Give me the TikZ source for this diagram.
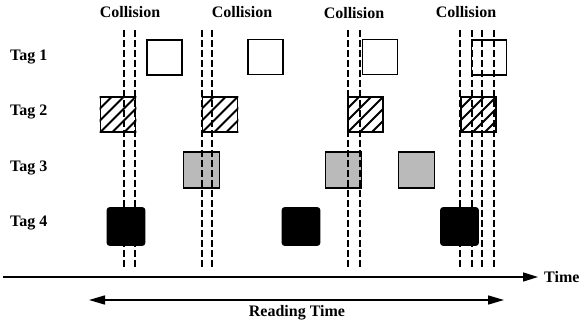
\documentclass[tikz,border=0pt]{standalone}
\usepackage{fontspec}
\setmainfont{Liberation Serif}
\usetikzlibrary{arrows.meta}
\begin{document}
\begin{tikzpicture}[x=1pt,y=-1pt,
  lbl/.style={font=\bfseries\fontsize{16}{18}\selectfont, inner sep=0pt},
  slot/.style={draw=black, line width=1.9pt, minimum width=35pt, minimum height=35pt, inner sep=0pt},
  emptyslot/.style={slot, fill=white},
  hatchslot/.style={slot, fill=white},
  dotslot/.style={slot, fill=black!27, minimum width=36pt, minimum height=36pt},
  darkslot/.style={slot, fill=black, rounded corners=2.5pt, minimum width=37pt, minimum height=37pt},
  collide/.style={line width=1.8pt, dash pattern=on 6.5pt off 3.5pt},
  axis/.style={line width=1.5pt, -{Triangle[length=15pt,width=9pt]}},
  span/.style={line width=1.5pt, {Triangle[length=16pt,width=9pt]}-{Triangle[length=16pt,width=9pt]}}]
\useasboundingbox (0,0) rectangle (579,322);

% row labels
\node[lbl, anchor=west] (t1) at (10,57) {Tag 1};
\node[lbl, anchor=west] (t2) at (10,112) {Tag 2};
\node[lbl, anchor=west] (t3) at (10,168) {Tag 3};
\node[lbl, anchor=west] (t4) at (10,223) {Tag 4};

% collision headings
\node[lbl] (c1) at (130,12) {Collision};
\node[lbl] (c2) at (242,12) {Collision};
\node[lbl] (c3) at (354,13) {Collision};
\node[lbl] (c4) at (466,12) {Collision};

% Tag 1 slots
\node[emptyslot] (a1) at (164.5,57.5) {};
\node[emptyslot] (a2) at (265.5,57) {};
\node[emptyslot] (a3) at (380,57) {};
\node[emptyslot] (a4) at (489,57.5) {};

% Tag 2 slots (hatched)
\foreach \n/\x in {b1/118, b2/220, b3/365.5, b4/478.5}{
  \node[hatchslot] (\n) at (\x,114.5) {};
  \begin{scope}
    \clip (\n.south west) rectangle (\n.north east);
    \foreach \k in {-36,-24,...,36}
      \draw[line width=2pt] ([xshift=\k pt]\n.south west) -- ++(40,-40);
  \end{scope}
  \node[slot] at (\n) {};
}

% Tag 3 slots (shaded)
\node[dotslot] (d1) at (201.5,170) {};
\node[dotslot] (d2) at (343.5,170) {};
\node[dotslot] (d3) at (416.5,170) {};

% Tag 4 slots (solid)
\node[darkslot] (e1) at (126,226.5) {};
\node[darkslot] (e2) at (301,226.5) {};
\node[darkslot] (e3) at (459.5,226.5) {};

% collision markers
\foreach \i/\x in {1/124, 2/135, 3/202, 4/212, 5/348, 6/360, 7/460, 8/472, 9/482, 10/494}{
  \coordinate (m\i top) at (\x,30);
  \coordinate (m\i bot) at (\x,268);
  \draw[collide] (m\i top) -- (m\i bot);
}

% time axis
\node[lbl, anchor=west] (time) at (544,277) {Time};
\coordinate (origin) at (3,277);
\draw[axis] (origin) -- ([xshift=-6pt]time.west);

% reading time span
\coordinate (rs) at (89,300);
\coordinate (re) at (504,300);
\draw[span] (rs) -- (re);
\node[lbl] (rt) at (297,313) {Reading Time};
\end{tikzpicture}
\end{document}
